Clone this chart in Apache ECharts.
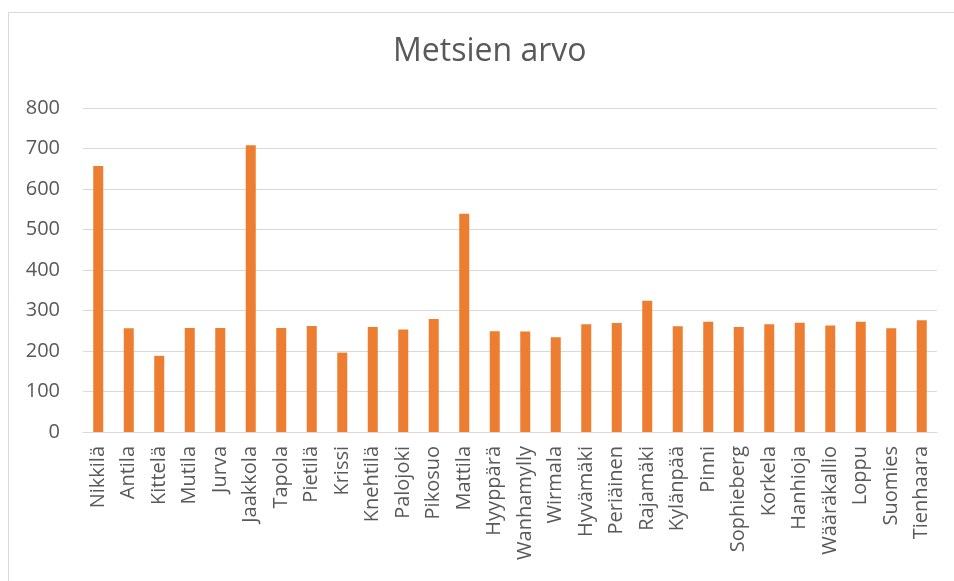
<!DOCTYPE html>
<html>
<head>
<meta charset="utf-8">
<script src="https://cdn.jsdelivr.net/npm/echarts@6/dist/echarts.min.js"></script>
<style>
html,body{margin:0;padding:0;background:#fff;}
#main{width:954px;height:581px;}
</style>
</head>
<body>
<div id="main"></div>
<script>
const categories = ["Nikkilä","Antila","Kittelä","Mutila","Jurva","Jaakkola","Tapola","Pietilä","Krissi","Knehtilä","Palojoki","Pikosuo","Mattila","Hyyppärä","Wanhamylly","Wirmala","Hyvämäki","Periäinen","Rajamäki","Kylänpää","Pinni","Sophieberg","Korkela","Hanhioja","Wääräkallio","Loppu","Suomies","Tienhaara"];
const values = [657,256,188,257,257,708,257,262,196,259,253,279,539,249,248,234,266,269,324,261,272,259,266,270,263,272,256,276];
const titleText = "Metsien arvo";

const chart = echarts.init(document.getElementById('main'), null, {renderer:'canvas'});
const font = "'Open Sans', sans-serif";
chart.setOption({
  animation:false,
  backgroundColor:'#fff',
  title:{text:titleText,left:388,top:31,
    textStyle:{fontFamily:font,fontSize:32,fontWeight:'normal',color:'#595959'}},
  graphic:[{type:'rect',left:6,top:10,shape:{width:1000,height:1000},
    style:{fill:'none',stroke:'#d9d9d9',lineWidth:1},silent:true}],
  grid:{left:83,right:17,top:108,bottom:149,containLabel:false},
  xAxis:{type:'category',data:categories,
    axisLine:{lineStyle:{color:'#d9d9d9',width:1}},
    axisTick:{show:false},
    axisLabel:{rotate:90,interval:0,margin:14,color:'#595959',fontFamily:font,fontSize:20}},
  yAxis:{type:'value',min:0,max:800,interval:100,
    axisLine:{show:false},axisTick:{show:false},
    splitLine:{lineStyle:{color:'#d9d9d9',width:1}},
    axisLabel:{margin:23,color:'#595959',fontFamily:font,fontSize:20}},
  series:[{type:'bar',data:values,barWidth:10,itemStyle:{color:'#ED7D31'}}]
});
</script>
</body>
</html>
